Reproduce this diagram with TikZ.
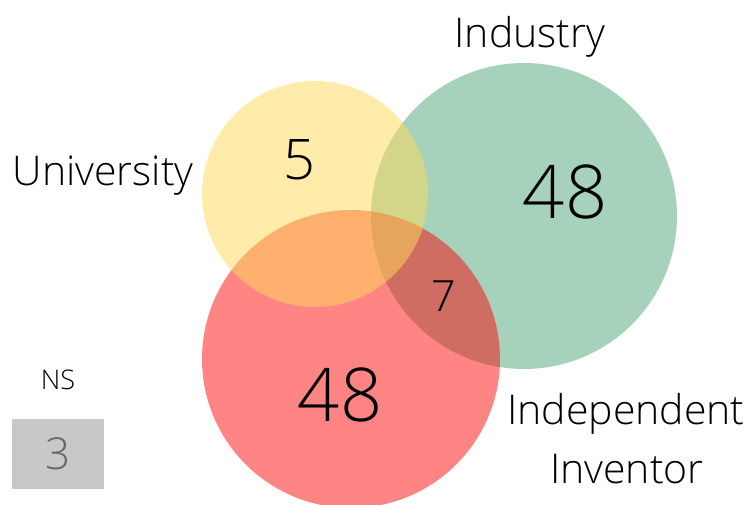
\documentclass[tikz,border=0pt]{standalone}
\usepackage{fontspec}
\setmainfont{Open Sans Light}
\definecolor{indgreen}{HTML}{A6D2BC}
\definecolor{invred}{RGB}{255,0,0}
\definecolor{uniyellow}{RGB}{255,218,88}
\definecolor{nsgray}{HTML}{C8C8C8}
\begin{document}
\begin{tikzpicture}[x=1pt,y=-1pt,
    lbl/.style={inner sep=0pt,font=\fontsize{41}{44}\selectfont},
    big/.style={inner sep=0pt,font=\fontsize{74}{78}\selectfont}]
	\useasboundingbox (0,0) rectangle (750,505);
	% circles: green, then red, then yellow on top
	\fill[indgreen] (524,216) circle (153);
	\fill[invred,fill opacity=0.48] (351,359) circle (149);
	\fill[uniyellow,fill opacity=0.51] (315,194) circle (113);
	% set labels
	\node[lbl] (industry) at (530,37) {Industry};
	\node[lbl,anchor=east] (university) at (194,176) {University};
	\node[lbl] (independent) at (626,414) {Independent};
	\node[lbl] (inventor) at (627,469) {Inventor};
	% counts
	\node[inner sep=0pt,font=\fontsize{56}{60}\selectfont] (uni) at (299,160) {5};
	\node[big] (ind) at (565,192) {48};
	\node[big] (inv) at (340,395) {48};
	\node[inner sep=0pt,font=\fontsize{43}{46}\selectfont] (indinv) at (444,296) {7};
	% not specified
	\node[inner sep=0pt,font=\fontsize{27}{30}\selectfont] (ns) at (58,380) {NS};
	\fill[nsgray] (12,419) rectangle (104,489);
	\node[inner sep=0pt,text=black!60,font=\fontsize{44}{46}\selectfont] (nscount) at (58,454) {3};
\end{tikzpicture}
\end{document}
